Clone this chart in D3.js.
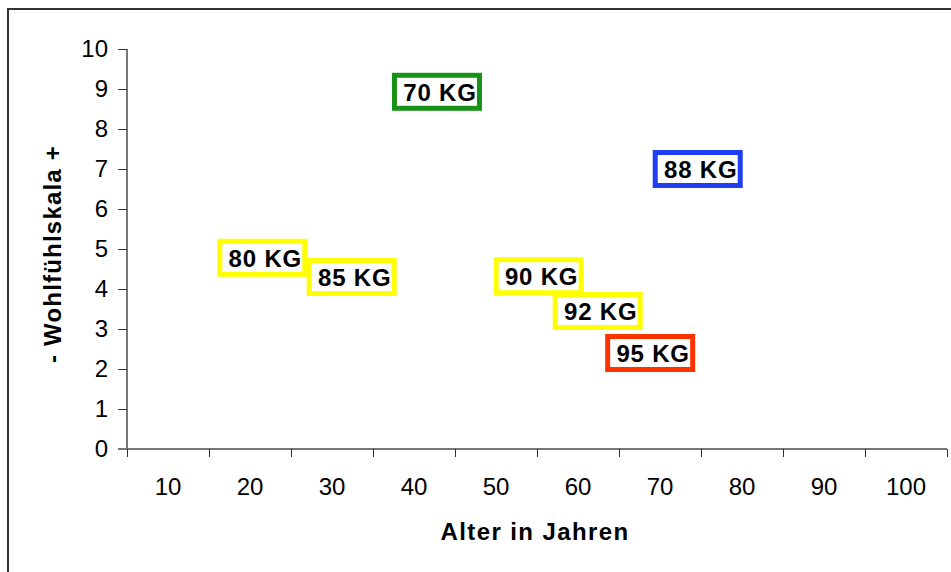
<!DOCTYPE html>
<html lang="en">
<head>
  <meta charset="utf-8">
  <title>Wohlfühlskala</title>
  <script src="https://cdn.jsdelivr.net/npm/d3@7"></script>
  <style>
    body { margin: 0; background: #fff; }
    text { font-family: "Liberation Sans", Arial, sans-serif; }
  </style>
</head>
<body>
  <script>
    // the data
    const weights = ["70 KG", "88 KG", "80 KG", "85 KG", "90 KG", "92 KG", "95 KG"];
    const ages = [42.8, 74.6, 21.5, 32.4, 55.2, 62.4, 68.8];
    const scores = [8.93, 7.0, 4.78, 4.3, 4.32, 3.45, 2.4];
    const boxColors = ["#179217", "#1f3df2", "#ffff00", "#ffff00", "#ffff00", "#ffff00", "#ff3300"];
    const xTicks = [10, 20, 30, 40, 50, 60, 70, 80, 90, 100];
    const yTicks = [0, 1, 2, 3, 4, 5, 6, 7, 8, 9, 10];

    const W = 951, H = 572;
    const margins = { left: 127, top: 49, right: 4, bottom: 123 };
    const width = W - margins.left - margins.right;
    const height = H - margins.top - margins.bottom;

    const svg = d3.select("body").append("svg")
      .attr("width", W)
      .attr("height", H);

    // outer frame
    svg.append("rect")
      .attr("x", 8).attr("y", 9)
      .attr("width", W + 10).attr("height", H + 10)
      .attr("fill", "none")
      .attr("stroke", "#333")
      .attr("stroke-width", 2);

    const container = svg.append("g")
      .attr("transform", `translate(${margins.left}, ${margins.top})`);

    // scales: category-style axis, labels sit between tick marks
    const xScale = d3.scaleLinear().domain([5, 105]).range([0, width]);
    const yScale = d3.scaleLinear().domain([0, 10]).range([height, 0]);

    // y axis
    const yAxisG = container.append("g")
      .call(d3.axisLeft(yScale).tickValues(yTicks).tickSize(9).tickPadding(10).tickFormat(d3.format("d")));
    yAxisG.select(".domain").attr("stroke", "#777").attr("stroke-width", 2).attr("d", `M0,0V${height}`);
    yAxisG.selectAll(".tick line").attr("stroke", "#333");
    yAxisG.selectAll(".tick text")
      .attr("fill", "#000")
      .style("font-size", "24px")
      .style("font-family", "Liberation Sans, Arial, sans-serif");

    // x axis: tick marks on band edges, labels in the middle
    const edges = xTicks.map(d => d - 5).concat([105]);
    const xAxisG = container.append("g")
      .attr("transform", `translate(0, ${height})`)
      .call(d3.axisBottom(xScale).tickValues(edges).tickSize(8).tickFormat(""));
    xAxisG.select(".domain").attr("stroke", "#777").attr("stroke-width", 2).attr("d", `M-9,0H${width}`);
    xAxisG.selectAll(".tick line").attr("stroke", "#333");
    xAxisG.selectAll(".xlabel").data(xTicks).join("text")
      .attr("class", "xlabel")
      .attr("x", d => xScale(d))
      .attr("y", 46)
      .attr("text-anchor", "middle")
      .attr("fill", "#000")
      .style("font-size", "24px")
      .text(d => d);

    // labelled boxes
    const pts = weights.map((w, i) => ({ label: w, age: ages[i], score: scores[i], color: boxColors[i] }));
    const boxW = 85, boxH = 33;
    const g = container.selectAll(".pt").data(pts).join("g")
      .attr("class", "pt")
      .attr("transform", d => `translate(${xScale(d.age)}, ${yScale(d.score)})`);
    g.append("rect")
      .attr("x", -boxW / 2).attr("y", -boxH / 2)
      .attr("width", boxW).attr("height", boxH)
      .attr("fill", "#fff")
      .attr("stroke", d => d.color)
      .attr("stroke-width", 5);
    g.append("text")
      .attr("text-anchor", "middle")
      .attr("x", 3)
      .attr("dy", "0.38em")
      .attr("fill", "#000")
      .style("font-size", "24px")
      .style("font-weight", "bold")
      .style("letter-spacing", "0.8px")
      .text(d => d.label);

    // x label
    svg.append("text")
      .attr("x", margins.left + width / 2 - 2)
      .attr("y", 540)
      .attr("text-anchor", "middle")
      .style("font-size", "24px")
      .style("font-weight", "bold")
      .style("letter-spacing", "1.4px")
      .text("Alter in Jahren");

    // y label
    svg.append("text")
      .attr("transform", `translate(61, 254) rotate(-90)`)
      .attr("text-anchor", "middle")
      .style("font-size", "24px")
      .style("font-weight", "bold")
      .style("letter-spacing", "1.2px")
      .text("- Wohlfühlskala +");
  </script>
</body>
</html>
